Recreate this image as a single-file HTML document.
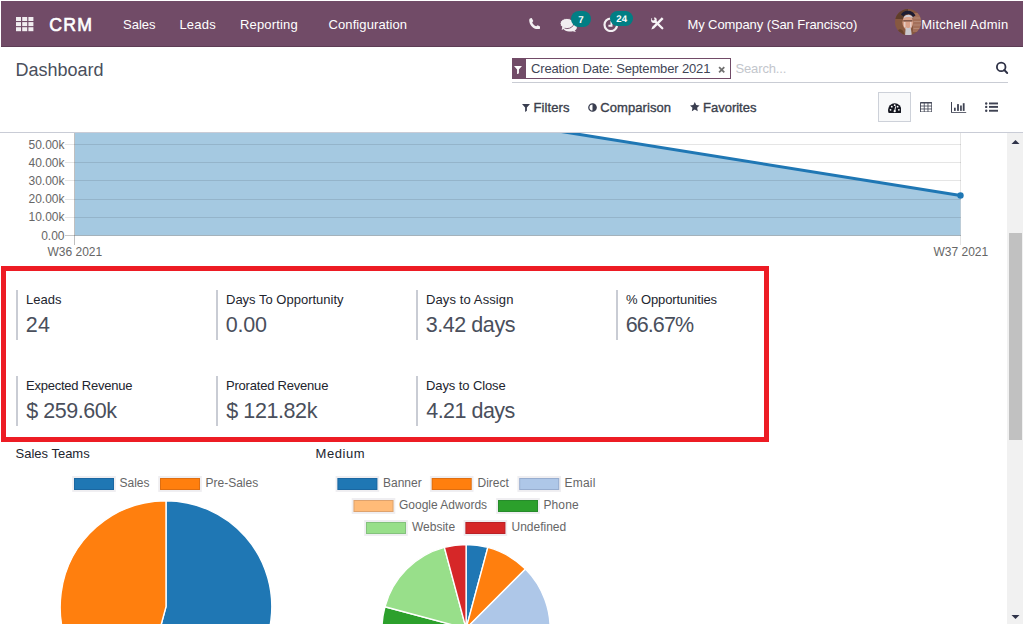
<!DOCTYPE html>
<html>
<head>
<meta charset="utf-8">
<title>Odoo - Dashboard</title>
<style>
*{box-sizing:border-box;margin:0;padding:0}
html,body{width:1024px;height:625px;overflow:hidden;background:#fff}
body{font-family:"Liberation Sans",sans-serif;color:#4c4c4c;position:relative}
.abs{position:absolute;white-space:nowrap}
.t{position:absolute;white-space:nowrap;line-height:1}
#nav{position:absolute;left:1px;top:1px;width:1022px;height:46px;background:#714b67;border-bottom:1px solid #5d3d55}
#nav .t{color:#fff;font-size:13px}
.badge{position:absolute;background:#017e84;border-radius:8px;color:#fff;font-weight:bold;font-size:10.5px;line-height:15px;text-align:center;height:16px}
.cp{font-size:13px;color:#3b3f4c}
.kpi{position:absolute;border-left:2px solid #c9ccd4;height:50px;width:180px}
.kpi .l{position:absolute;left:8px;top:3.4px;font-size:13px;line-height:1;color:#22252e;white-space:nowrap}
.kpi .v{position:absolute;left:7.8px;top:24.6px;font-size:21.5px;line-height:1;color:#4a4f5c;white-space:nowrap}
.lg{position:absolute;width:41px;height:13px;border:1px solid rgba(226,226,232,.9)}
.lt{position:absolute;white-space:nowrap;line-height:1;font-size:12px;color:#666}
.ax{position:absolute;white-space:nowrap;line-height:1;font-size:12px;color:#666}
</style>
</head>
<body>
<!-- NAVBAR -->
<div id="nav">
  <svg class="abs" style="left:15px;top:16px" width="18" height="15" viewBox="0 0 18 15">
    <g fill="#f1edf0">
      <rect x="0" y="0" width="5" height="4"/><rect x="6.2" y="0" width="5" height="4"/><rect x="12.4" y="0" width="5" height="4"/>
      <rect x="0" y="5.1" width="5" height="4"/><rect x="6.2" y="5.1" width="5" height="4"/><rect x="12.4" y="5.1" width="5" height="4"/>
      <rect x="0" y="10.2" width="5" height="4"/><rect x="6.2" y="10.2" width="5" height="4"/><rect x="12.4" y="10.2" width="5" height="4"/>
    </g>
  </svg>
  <div class="t" id="brand" style="left:48.2px;top:16px;font-size:17.7px;letter-spacing:1.2px;-webkit-text-stroke:.6px #fff">CRM</div>
  <div class="t" id="m1" style="left:122px;top:17px">Sales</div>
  <div class="t" id="m2" style="left:178.4px;top:17px;letter-spacing:.25px">Leads</div>
  <div class="t" id="m3" style="left:239px;top:17px;letter-spacing:.17px">Reporting</div>
  <div class="t" id="m4" style="left:327.5px;top:17px;letter-spacing:.1px">Configuration</div>

  <!-- phone -->
  <svg class="abs" style="left:527.6px;top:17px" width="11.6" height="11.4" viewBox="0 0 11.6 11.4"><path d="M0.2 2.3 C0.2 0.9 1.4 0 2.7 0.1 L4.3 3.1 L3.2 4.5 C3.9 6.2 5.4 7.6 7.2 8.3 L8.7 7.2 L11.5 8.9 C11.6 10.2 10.6 11.4 9.2 11.4 C4.3 11.2 0.4 7.3 0.2 2.3 Z" fill="#f3eff2"/></svg>
  <!-- chat -->
  <svg class="abs" style="left:559px;top:16.6px" width="17.4" height="14" viewBox="0 0 17.4 14">
    <path d="M9 5 C13.6 5 16.9 6.9 16.9 9.4 C16.9 10.7 16 11.8 14.7 12.5 L16 14 L12.8 13.2 C11.7 13.5 10.4 13.6 9 13.5 C6.5 13.4 4.4 12.4 3.6 11 Z" fill="#f3eff2"/>
    <ellipse cx="6.9" cy="5.5" rx="6.8" ry="5.1" fill="#f1edf0" stroke="#714b67" stroke-width="0.9"/>
    <path d="M2.300 8.600 L1.700 11.900 L5.800 10 Z" fill="#f1edf0"/>
  </svg>
  <div class="badge" id="b7" style="left:569.9px;top:9.9px;width:20.2px;height:16.2px;font-size:9.8px;line-height:19.4px;text-rendering:geometricPrecision">7</div>
  <!-- clock -->
  <svg class="abs" style="left:602.1px;top:15.8px" width="15.6" height="15.6" viewBox="0 0 15.6 15.6">
    <circle cx="7.8" cy="7.8" r="6.3" fill="none" stroke="#f3eff2" stroke-width="2.2"/>
    <path d="M7.500 3.800 H9.500 V9.800 H5.400 V7.800 H7.500 Z" fill="#f3eff2"/>
  </svg>
  <div class="badge" id="b24" style="left:609.3px;top:9.9px;width:22.8px;height:15.1px;font-size:9.6px;line-height:17.4px;text-rendering:geometricPrecision">24</div>
  <!-- tools -->
  <svg class="abs" style="left:649.6px;top:16.4px" width="13.4" height="13.4" viewBox="0 0 13.4 13.4">
    <path d="M3.9 4.100 L11.300 11.300" stroke="#f8f5f7" stroke-width="2.3" stroke-linecap="round"/>
    <circle cx="2.9" cy="3.1" r="2.85" fill="#f8f5f7"/>
    <path d="M-0.500 -0.300 L2.700 3 L3.400 -0.300 Z" fill="#714b67"/>
    <circle cx="2.200" cy="2.200" r="1.25" fill="#714b67"/>
    <path d="M12.580 2.090 L10.820 0.310 L1.320 9.710 L0.300 12.500 L3.080 11.490 Z" fill="#f8f5f7"/>
  </svg>
  <!-- avatar -->
  <svg class="abs" style="left:893.9px;top:7.8px" width="26.2" height="26.2" viewBox="0 0 26.2 26.2">
    <defs><clipPath id="av"><circle cx="13.1" cy="13.1" r="13.1"/></clipPath><filter id="bl" x="-10%" y="-10%" width="120%" height="120%"><feGaussianBlur stdDeviation="0.7"/></filter></defs>
    <g clip-path="url(#av)">
      <rect width="26.2" height="26.2" fill="#875840"/>
      <g filter="url(#bl)">
        <rect x="-1" y="-1" width="14" height="11" fill="#5e3d2c"/>
        <rect x="18" y="4" width="10" height="19" fill="#a4705a"/>
        <path d="M18.500 9 H27 M18.500 12.500 H27 M18.500 16 H27 M18.500 19.500 H27" stroke="#b98f7c" stroke-width="0.8"/>
        <path d="M6 5.500 C8 0.500 18 0 20.500 6.500 L18 8 C16 4 10 4 8.500 7.500 Z" fill="#1f1b30"/>
        <ellipse cx="12.8" cy="13.5" rx="5.3" ry="7.6" fill="#d9a18a"/>
        <path d="M8.500 9.500 C9 4.500 17.500 4.500 18 9.500 C16 7.600 10.500 7.600 8.500 9.500 Z" fill="#cfccd4"/>
        <path d="M8.200 11.800 H17.400" stroke="#7a5648" stroke-width="1.5"/>
        <path d="M9.800 13 V18 M15.800 13 V18" stroke="#e9d6d2" stroke-width="1.2"/>
        <path d="M10.800 17.500 C11.500 19.500 14.500 19.500 15.500 17.500 L17 27 H10 Z" fill="#cbc8ce"/>
        <path d="M2 22 C5 19 8 19.500 10 27 H2 Z" fill="#6b432f"/>
      </g>
    </g>
  </svg>
  <div class="t" id="co" style="left:686.4px;top:17px;letter-spacing:-.085px">My Company (San Francisco)</div>
  <div class="t" id="us" style="left:920.2px;top:17px;letter-spacing:.24px">Mitchell Admin</div>
</div>

<!-- CONTROL PANEL -->
<div class="t" id="title" style="left:15.5px;top:61px;font-size:18px;color:#4a4f5c">Dashboard</div>


<!-- search facet -->
<div class="abs" style="left:512px;top:58px;width:219px;height:21px;border:1px solid #714b67;background:#fff"></div>
<div class="abs" style="left:512px;top:58px;width:14px;height:21px;background:#714b67"></div>
<svg class="abs" style="left:514px;top:65.5px" width="8" height="8.5" viewBox="0 0 8 8.5"><path d="M0 0 H8 L4.9 3.6 V7.2 L3.1 8.5 V3.6 Z" fill="#fff"/></svg>
<div class="t cp" id="ft" style="letter-spacing:-.15px;left:531px;top:61.5px;color:#3f4556">Creation Date: September 2021</div>
<svg class="abs" style="left:718px;top:66.3px" width="7.4" height="7.4" viewBox="0 0 8 8"><path d="M1.2 1.2 L6.8 6.8 M6.8 1.2 L1.2 6.8" stroke="#707070" stroke-width="1.9" stroke-linecap="butt"/></svg>
<div class="t cp" id="se" style="letter-spacing:-.14px;left:735.5px;top:61.5px;color:#c3c6cc">Search...</div>
<div class="abs" style="left:512px;top:82px;width:496px;height:1px;background:#c9ccd4"></div>
<svg class="abs" style="left:995px;top:61px" width="14" height="14" viewBox="0 0 14 14"><circle cx="6.2" cy="5.9" r="4.3" fill="none" stroke="#2d3045" stroke-width="1.8"/><path d="M9.300 9 L12.200 12" stroke="#2d3045" stroke-width="1.9" stroke-linecap="round"/></svg>

<!-- filters row -->
<svg class="abs" style="left:522.2px;top:103.8px" width="8" height="8" viewBox="0 0 8 8"><path d="M0 0 H8 L4.9 3.5 V6.8 L3.1 8 V3.5 Z" fill="#3a3e50"/></svg>
<div class="t cp" id="sf" style="-webkit-text-stroke:.35px #3b3f4c;letter-spacing:.1px;left:533.5px;top:100.5px">Filters</div>
<svg class="abs" style="left:588.4px;top:103px" width="9" height="9" viewBox="0 0 9 9"><circle cx="4.5" cy="4.5" r="3.7" fill="#fff" stroke="#3a3e50" stroke-width="1.3"/><path d="M4.5 0.8 A3.7 3.7 0 0 1 4.5 8.2 Z" fill="#3a3e50"/></svg>
<div class="t cp" id="sc" style="-webkit-text-stroke:.35px #3b3f4c;letter-spacing:.07px;left:600.3px;top:100.5px">Comparison</div>
<svg class="abs" style="left:690.4px;top:102.4px" width="9.6" height="9.2" viewBox="0 0 10 9.6"><path d="M5 0 L6.5 3.2 L10 3.65 L7.45 6.1 L8.1 9.6 L5 7.9 L1.9 9.6 L2.55 6.1 L0 3.65 L3.5 3.2 Z" fill="#3a3e50"/></svg>
<div class="t cp" id="sv" style="-webkit-text-stroke:.35px #3b3f4c;left:703px;top:100.5px">Favorites</div>

<!-- view switcher -->
<div class="abs" style="left:878px;top:92px;width:33px;height:30px;background:#f8f9fa;border:1px solid #cdd1d9"></div>
<svg class="abs" style="left:887.8px;top:102.7px" width="13.4" height="10.4" viewBox="0 0 13.8 10.6" preserveAspectRatio="none">
  <path d="M0 7.2 A6.9 6.9 0 0 1 13.8 7.2 Q13.8 9.3 12.9 10.6 H0.9 Q0 9.3 0 7.2 Z" fill="#14161f"/>
  <circle cx="2.6" cy="7" r="0.95" fill="#fff"/><circle cx="3.9" cy="3.7" r="0.95" fill="#fff"/><circle cx="6.9" cy="2.2" r="0.95" fill="#fff"/><circle cx="9.9" cy="3.7" r="0.95" fill="#fff"/><circle cx="11.2" cy="7" r="0.95" fill="#fff"/>
  <path d="M7.800 3.800 L6.900 8.300" stroke="#fff" stroke-width="1" stroke-linecap="round"/><circle cx="6.9" cy="8.4" r="1.15" fill="#fff"/>
</svg>
<svg class="abs" style="left:920px;top:101.8px" width="12.2" height="10.4" viewBox="0 0 12.2 10.4">
  <rect x="0" y="0" width="12.2" height="10.4" rx="0.8" fill="#454958"/>
  <g fill="#fff"><rect x="0.9" y="1.500" width="2.9" height="2.100"/><rect x="4.650" y="1.500" width="2.9" height="2.100"/><rect x="8.400" y="1.500" width="2.9" height="2.100"/>
  <rect x="0.9" y="4.450" width="2.9" height="2.100"/><rect x="4.650" y="4.450" width="2.9" height="2.100"/><rect x="8.400" y="4.450" width="2.9" height="2.100"/>
  <rect x="0.9" y="7.400" width="2.9" height="2.100"/><rect x="4.650" y="7.400" width="2.9" height="2.100"/><rect x="8.400" y="7.400" width="2.9" height="2.100"/></g>
</svg>
<svg class="abs" style="left:951px;top:101.8px" width="15.5" height="11.2" viewBox="0 0 15.5 11.2">
  <path d="M0.5 0 V10.7 H15.2" fill="none" stroke="#3e4252" stroke-width="1"/>
  <g fill="#3e4252"><rect x="3" y="5.7" width="1.7" height="3.2"/><rect x="6.1" y="2.1" width="1.8" height="6.8"/><rect x="9.1" y="3.5" width="1.7" height="5.4"/><rect x="11.8" y="1.2" width="1.8" height="7.7"/></g>
</svg>
<svg class="abs" style="left:985px;top:102.3px" width="13.2" height="10.2" viewBox="0 0 13.2 10.2">
  <g fill="#3e4252"><circle cx="1.2" cy="1.45" r="1.2"/><rect x="4" y="0.500" width="9.1" height="1.9"/>
  <circle cx="1.2" cy="4.900" r="1.2"/><rect x="4" y="3.950" width="9.1" height="1.9"/>
  <circle cx="1.2" cy="8.750" r="1.2"/><rect x="4" y="7.800" width="9.1" height="1.9"/></g>
</svg>

<!-- top border of content -->
<div class="abs" style="left:0;top:132px;width:1023px;height:1px;background:#c9ccd6"></div>


<!-- AREA CHART -->
<svg class="abs" style="left:0;top:133px" width="1007" height="120" viewBox="0 133 1007 120" shape-rendering="auto">
  <polygon points="75,133 574,133 960.5,195.5 960.5,235.5 75,235.5" fill="#a5c9e1"/>
  <g shape-rendering="crispEdges" stroke-width="1">
    <g stroke="rgba(0,0,0,0.1)">
      <path d="M65 144.500H961 M65 162.500H961 M65 180.500H961 M65 199.500H961 M65 217.500H961"/>
      <path d="M960.5 133V245"/>
    </g>
    <path d="M65 235.500H961" stroke="rgba(0,0,0,0.22)"/>
    <path d="M74.500 133V245" stroke="rgba(0,0,0,0.25)"/>
  </g>
  <path d="M77 53.900 L960.500 195.500" stroke="#1f77b4" stroke-width="3" fill="none"/>
  <circle cx="960.5" cy="195.5" r="3.2" fill="#1f77b4"/>
</svg>
<div class="ax" id="y5" style="right:959.5px;top:138.5px">50.00k</div>
<div class="ax" id="y4" style="right:959.5px;top:156.5px">40.00k</div>
<div class="ax" id="y3" style="right:959.5px;top:174.500px">30.00k</div>
<div class="ax" id="y2" style="right:959.5px;top:193px">20.00k</div>
<div class="ax" id="y1" style="right:959.5px;top:211px">10.00k</div>
<div class="ax" id="y0" style="right:959.5px;top:229.500px">0.00</div>
<div class="ax" id="x1" style="left:47.500px;top:245.500px">W36 2021</div>
<div class="ax" id="x2" style="left:933.5px;top:245.500px">W37 2021</div>

<!-- PIES -->
<div class="t" id="st" style="left:15.500px;top:447px;font-size:13px;color:#22252e">Sales Teams</div>
<div class="t" id="md" style="letter-spacing:.58px;left:315.5px;top:447px;font-size:13px;color:#22252e">Medium</div>

<div class="lt" id="l1" style="left:119.500px;top:477px">Sales</div>
<div class="lt" id="l2" style="left:205.500px;top:477px">Pre-Sales</div>

<div class="lt" id="l3" style="left:383px;top:477px">Banner</div>
<div class="lt" id="l4" style="left:477.500px;top:477px">Direct</div>
<div class="lt" id="l5" style="letter-spacing:.2px;left:564.600px;top:477px">Email</div>

<div class="lt" id="l6" style="left:399px;top:499px">Google Adwords</div>
<div class="lt" id="l7" style="letter-spacing:.15px;left:543.4px;top:499px">Phone</div>

<div class="lt" id="l8" style="left:412px;top:521px">Website</div>
<div class="lt" id="l9" style="left:511.500px;top:521px">Undefined</div>

<svg class="abs" style="left:0;top:470px" width="640" height="70" viewBox="0 470 640 70">
  <rect x="72.2" y="476.0" width="43.6" height="15.9" fill="#efeef1"/><rect x="74.0" y="478.0" width="40" height="12" fill="#1f77b4"/><rect x="74.5" y="478.5" width="39" height="11" fill="none" stroke="rgba(0,0,40,.13)" stroke-width="1"/>
  <rect x="158.2" y="476.0" width="43.6" height="15.9" fill="#efeef1"/><rect x="160.0" y="478.0" width="40" height="12" fill="#ff7f0e"/><rect x="160.5" y="478.5" width="39" height="11" fill="none" stroke="rgba(0,0,40,.13)" stroke-width="1"/>
  <rect x="335.6" y="476.0" width="43.6" height="15.9" fill="#efeef1"/><rect x="337.4" y="478.0" width="40" height="12" fill="#1f77b4"/><rect x="337.9" y="478.5" width="39" height="11" fill="none" stroke="rgba(0,0,40,.13)" stroke-width="1"/>
  <rect x="429.9" y="476.0" width="43.6" height="15.9" fill="#efeef1"/><rect x="431.7" y="478.0" width="40" height="12" fill="#ff7f0e"/><rect x="432.2" y="478.5" width="39" height="11" fill="none" stroke="rgba(0,0,40,.13)" stroke-width="1"/>
  <rect x="517.4" y="476.0" width="43.6" height="15.9" fill="#efeef1"/><rect x="519.2" y="478.0" width="40" height="12" fill="#aec7e8"/><rect x="519.7" y="478.5" width="39" height="11" fill="none" stroke="rgba(0,0,40,.13)" stroke-width="1"/>
  <rect x="351.7" y="498.0" width="43.6" height="15.9" fill="#efeef1"/><rect x="353.5" y="500.0" width="40" height="12" fill="#ffbb78"/><rect x="354.0" y="500.5" width="39" height="11" fill="none" stroke="rgba(0,0,40,.13)" stroke-width="1"/>
  <rect x="496.2" y="498.0" width="43.6" height="15.9" fill="#efeef1"/><rect x="498.0" y="500.0" width="40" height="12" fill="#2ca02c"/><rect x="498.5" y="500.5" width="39" height="11" fill="none" stroke="rgba(0,0,40,.13)" stroke-width="1"/>
  <rect x="364.2" y="520.0" width="43.6" height="15.9" fill="#efeef1"/><rect x="366.0" y="522.0" width="40" height="12" fill="#98df8a"/><rect x="366.5" y="522.5" width="39" height="11" fill="none" stroke="rgba(0,0,40,.13)" stroke-width="1"/>
  <rect x="463.6" y="520.0" width="43.6" height="15.9" fill="#efeef1"/><rect x="465.4" y="522.0" width="40" height="12" fill="#d62728"/><rect x="465.9" y="522.5" width="39" height="11" fill="none" stroke="rgba(0,0,40,.13)" stroke-width="1"/>
</svg>
<svg class="abs" style="left:0;top:495px" width="1007" height="129" viewBox="0 495 1007 129">
  <g stroke="#fff" stroke-width="1.4" stroke-linejoin="round">
    <path fill="#1f77b4" d="M166 606.6 L166.00 500.80 A105.8 105.8 0 1 1 138.62 708.79 Z"/>
    <path fill="#ff7f0e" d="M166 606.6 L138.62 708.79 A105.8 105.8 0 0 1 166.00 500.80 Z"/>
    <path fill="#1f77b4" d="M466.1 628.5 L466.10 544.50 A84 84 0 0 1 487.84 547.36 Z"/>
    <path fill="#ff7f0e" d="M466.1 628.5 L487.84 547.36 A84 84 0 0 1 525.50 569.10 Z"/>
    <path fill="#aec7e8" d="M466.1 628.5 L525.50 569.10 A84 84 0 0 1 508.10 701.25 Z"/>
    <path fill="#ffbb78" d="M466.1 628.5 L508.10 701.25 A84 84 0 0 1 424.10 701.25 Z"/>
    <path fill="#2ca02c" d="M466.1 628.5 L424.10 701.25 A84 84 0 0 1 384.96 606.76 Z"/>
    <path fill="#98df8a" d="M466.1 628.5 L384.96 606.76 A84 84 0 0 1 444.36 547.36 Z"/>
    <path fill="#d62728" d="M466.1 628.5 L444.36 547.36 A84 84 0 0 1 466.10 544.50 Z"/>
  </g>
</svg>

<!-- SCROLLBAR -->
<div class="abs" style="left:1007px;top:133px;width:16px;height:491px;background:#f1f1f1"></div>
<div class="abs" style="left:1009px;top:233px;width:13px;height:207px;background:#c1c1c1"></div>
<svg class="abs" style="left:1011px;top:139px" width="9" height="6" viewBox="0 0 9 6"><path d="M0.5 5 L4.5 1 L8.5 5Z" fill="#2f3349"/></svg>
<svg class="abs" style="left:1011px;top:614px" width="9" height="6" viewBox="0 0 9 6"><path d="M0.5 1 L4.5 5 L8.5 1Z" fill="#2f3349"/></svg>

<!-- KPI RED BOX -->
<div class="abs" id="redbox" style="left:1px;top:266px;width:768px;height:176px;border:5px solid #ed1c24"></div>

<div class="kpi" style="left:16px;top:290px"><div class="l" id="k1l">Leads</div><div class="v" id="k1v" style="letter-spacing:0.2px">24</div></div>
<div class="kpi" style="left:216px;top:290px"><div class="l" id="k2l">Days To Opportunity</div><div class="v" id="k2v" style="letter-spacing:-0.2px">0.00</div></div>
<div class="kpi" style="left:416px;top:290px"><div class="l" id="k3l" style="letter-spacing:0.11px">Days to Assign</div><div class="v" id="k3v" style="letter-spacing:-0.45px">3.42 days</div></div>
<div class="kpi" style="left:616px;top:290px"><div class="l" id="k4l" style="letter-spacing:-0.1px">% Opportunities</div><div class="v" id="k4v" style="letter-spacing:-0.94px">66.67%</div></div>
<div class="kpi" style="left:16px;top:376px"><div class="l" id="k5l" style="letter-spacing:-0.23px">Expected Revenue</div><div class="v" id="k5v" style="margin-left:.4px;letter-spacing:-0.46px">$ 259.60k</div></div>
<div class="kpi" style="left:216px;top:376px"><div class="l" id="k6l" style="letter-spacing:-0.21px">Prorated Revenue</div><div class="v" id="k6v" style="margin-left:.4px;letter-spacing:-0.4px">$ 121.82k</div></div>
<div class="kpi" style="left:416px;top:376px"><div class="l" id="k7l" style="letter-spacing:-0.1px">Days to Close</div><div class="v" id="k7v" style="margin-left:.4px;letter-spacing:-0.51px">4.21 days</div></div>

</body>
</html>
